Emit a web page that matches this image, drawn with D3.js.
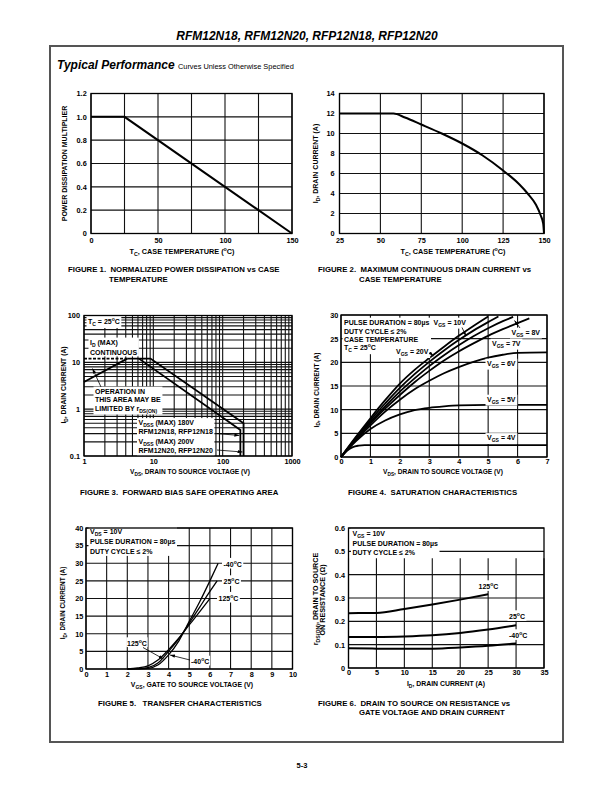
<!DOCTYPE html>
<html>
<head>
<meta charset="utf-8">
<script src="https://cdn.jsdelivr.net/npm/d3@7"></script>
<style>
  body { margin: 0; background: #fff; }
  text { font-family: "Liberation Sans", Arial, sans-serif; font-weight: bold; }
</style>
</head>
<body>
<div id="page"></div>
<script>
// ---- data ----
// Figure 1: normalized power dissipation vs case temperature
const fig1Tc = [0, 25, 150];
const fig1Mult = [1.0, 1.0, 0];
const fig1XTicks = [0, 50, 100, 150];
const fig1YTicks = [0, 0.2, 0.4, 0.6, 0.8, 1.0, 1.2];

// Figure 2: max continuous drain current vs case temperature
const fig2Tc = [25, 58, 65, 75, 87.5, 100, 112.5, 125, 135, 140, 145, 148, 149.5, 150];
const fig2Id = [12, 12, 11.6, 10.9, 10.0, 9.0, 7.8, 6.3, 4.9, 4.0, 2.9, 1.8, 1.0, 0];
const fig2XTicks = [25, 50, 75, 100, 125, 150];
const fig2YTicks = [0, 2, 4, 6, 8, 10, 12, 14];

// Figure 3: forward bias safe operating area (log-log)
const soaRdsV = [1, 4.2];
const soaRdsI = [3.8, 12];
const soaIdMaxV = [1, 4.2];
const soaIdMaxI = [12, 12];
const soa200V = [4.2, 9.1, 200, 200];
const soa200I = [12, 12, 0.5, 0.1];
const soa180V = [6.2, 180, 180];
const soa180I = [12, 0.36, 0.1];
const fig3XTicks = [1, 10, 100, 1000];
const fig3YTicks = [0.1, 1, 10, 100];

// Figure 4: saturation characteristics
const vgs20Vds = [0, 0.5, 1, 1.5, 2, 2.5, 3, 3.5, 4, 4.5, 5];
const vgs20Id = [0, 4.2, 8.2, 12.0, 15.5, 18.4, 20.9, 23.3, 25.6, 27.7, 29.7];
const vgs10Vds = [0, 0.5, 1, 1.5, 2, 2.5, 3, 3.5, 4, 4.5, 5, 5.35];
const vgs10Id = [0, 4.0, 7.8, 11.3, 14.6, 17.5, 20.1, 22.5, 24.7, 26.7, 28.5, 29.7];
const vgs8Vds = [0, 0.5, 1, 1.5, 2, 2.5, 3, 3.5, 4, 4.5, 5, 5.5, 5.85];
const vgs8Id = [0, 3.8, 7.4, 10.7, 13.8, 16.6, 19.2, 21.5, 23.6, 25.5, 27.2, 28.7, 29.6];
const vgs7Vds = [0, 0.5, 1, 1.5, 2, 2.5, 3, 3.5, 4, 4.5, 5, 5.5, 6, 6.4];
const vgs7Id = [0, 3.7, 7.1, 10.2, 13.1, 15.8, 18.2, 20.4, 22.3, 24.0, 25.6, 27.0, 28.3, 29.3];
const vgs6Vds = [0, 0.5, 1, 1.5, 2, 2.5, 3, 3.5, 4, 4.5, 5, 5.5, 6, 7];
const vgs6Id = [0, 3.5, 6.7, 9.6, 12.1, 14.3, 16.1, 17.7, 19.0, 20.1, 21.0, 21.6, 22.0, 22.1];
const vgs5Vds = [0, 0.5, 1, 1.5, 2, 2.5, 3, 3.5, 4, 5, 7];
const vgs5Id = [0, 3.3, 5.9, 7.7, 9.0, 9.9, 10.4, 10.7, 10.9, 11.0, 11.0];
const vgs4Vds = [0, 0.2, 0.4, 0.6, 0.8, 1.0, 7];
const vgs4Id = [0, 1.3, 2.1, 2.4, 2.5, 2.5, 2.5];
const fig4XTicks = [0, 1, 2, 3, 4, 5, 6, 7];
const fig4YTicks = [0, 5, 10, 15, 20, 25, 30];

// Figure 5: transfer characteristics
const tm40Vgs = [2, 2.5, 3, 3.5, 4, 4.5, 5, 5.5, 6, 6.4];
const tm40Id = [0, 0.05, 0.2, 1.2, 4.0, 8.0, 13.5, 19.0, 25.0, 30.0];
const t25Vgs = [2, 2.5, 3, 3.5, 4, 4.5, 5, 5.5, 6, 6.35];
const t25Id = [0, 0.1, 0.4, 1.8, 5.0, 8.6, 13.0, 17.5, 22.0, 25.0];
const t125Vgs = [2, 2.5, 3, 3.5, 4, 4.5, 5, 5.5, 6];
const t125Id = [0, 0.3, 0.9, 2.6, 5.5, 8.8, 12.5, 16.2, 20.0];
const fig5XTicks = [0, 1, 2, 3, 4, 5, 6, 7, 8, 9, 10];
const fig5YTicks = [0, 5, 10, 15, 20, 25, 30, 35, 40];

// Figure 6: on resistance vs drain current
const r125Id = [0, 5, 10, 15, 20, 25];
const r125R = [0.235, 0.236, 0.253, 0.272, 0.293, 0.316];
const r25Id = [0, 5, 10, 15, 20, 25, 30];
const r25R = [0.133, 0.133, 0.135, 0.140, 0.150, 0.165, 0.183];
const rm40Id = [0, 5, 10, 15, 20, 25, 30];
const rm40R = [0.085, 0.083, 0.082, 0.083, 0.088, 0.095, 0.105];
const fig6XTicks = [0, 5, 10, 15, 20, 25, 30, 35];
const fig6YTicks = [0, 0.1, 0.2, 0.3, 0.4, 0.5, 0.6];

// ---- page ----
const svg = d3.select("#page").append("svg")
  .attr("width", 612)
  .attr("height", 792);

svg.append("defs").append("marker")
  .attr("id", "arr")
  .attr("viewBox", "0 0 6 4")
  .attr("refX", 6).attr("refY", 2)
  .attr("markerWidth", 5).attr("markerHeight", 3.5)
  .attr("markerUnits", "userSpaceOnUse")
  .attr("orient", "auto")
  .append("path").attr("d", "M0,0L6,2L0,4Z").attr("fill", "#000");

// text with sub/superscripts; parts are strings or [text, "sub"|"sup"]
function rich(sel, parts, size) {
  let shift = 0;
  parts.forEach(p => {
    const [t, m] = typeof p === "string" ? [p, ""] : p;
    const target = m === "sub" ? 0.3 * size : m === "sup" ? -0.4 * size : 0;
    sel.append("tspan")
      .attr("dy", target - shift)
      .attr("font-size", m ? size * 0.72 : size)
      .text(t);
    shift = target;
  });
  return sel;
}

function label(g, x, y, parts, opts = {}) {
  const size = opts.size || 7;
  const t = g.append("text")
    .attr("x", x).attr("y", y)
    .attr("font-size", size)
    .attr("text-anchor", opts.anchor || "start")
    .style("white-space", "pre");
  if (opts.rotate) t.attr("transform", `rotate(-90,${x},${y})`);
  rich(t, parts, size);
  return t;
}

// block of lines on a white background
function note(g, x, ys, lines, pad = 1.5) {
  const blk = g.append("g");
  lines.forEach((parts, i) => label(blk, x, ys[i], parts));
  const b = blk.node().getBBox();
  blk.insert("rect", ":first-child")
    .attr("x", b.x - pad).attr("y", b.y - pad * 0.6)
    .attr("width", b.width + pad * 2).attr("height", b.height + pad * 1.2)
    .attr("fill", "#fff");
  return blk;
}

function arrow(g, x1, y1, x2, y2) {
  g.append("line")
    .attr("x1", x1).attr("y1", y1).attr("x2", x2).attr("y2", y2)
    .attr("stroke", "#000").attr("stroke-width", 0.8)
    .attr("marker-end", "url(#arr)");
}

function panel(p) {
  const g = svg.append("g");
  const x = (p.xlog ? d3.scaleLog() : d3.scaleLinear()).domain(p.xd).range([p.l, p.r]);
  const y = (p.ylog ? d3.scaleLog() : d3.scaleLinear()).domain(p.yd).range([p.b, p.t]);
  const xg = p.xlog ? x.ticks() : p.xticks;
  const yg = p.ylog ? y.ticks() : p.yticks;
  const vTop = p.vgTop !== undefined ? y(p.vgTop) : p.t;

  g.append("g").selectAll("line").data(xg).join("line")
    .attr("x1", d => x(d)).attr("x2", d => x(d))
    .attr("y1", p.b).attr("y2", vTop)
    .attr("stroke", "#111").attr("stroke-width", p.gw || 1.1);
  g.append("g").selectAll("line").data(yg).join("line")
    .attr("x1", p.l).attr("x2", p.r)
    .attr("y1", d => y(d)).attr("y2", d => y(d))
    .attr("stroke", "#111").attr("stroke-width", p.gw || 1.1);

  const ax = g.append("g")
    .attr("transform", `translate(0,${p.b})`)
    .call(d3.axisBottom(x).tickValues(p.xticks).tickFormat(d => d).tickSize(0).tickPadding(p.xpad));
  const ay = g.append("g")
    .attr("transform", `translate(${p.l},0)`)
    .call(d3.axisLeft(y).tickValues(p.yticks).tickFormat(p.yfmt || (d => d)).tickSize(0).tickPadding(p.ypad));
  [ax, ay].forEach(a => {
    a.select(".domain").remove();
    a.attr("font-family", null).attr("font-size", 7.3);
  });

  const layer = g.append("g");
  const top = g.append("g");
  top.append("rect")
    .attr("x", p.l).attr("y", p.t)
    .attr("width", p.r - p.l).attr("height", p.b - p.t)
    .attr("fill", "none").attr("stroke", "#000").attr("stroke-width", 1.3);
  return { g: layer, x, y };
}

function curve(pn, xs, ys, opts = {}) {
  const line = d3.line()
    .x(d => pn.x(d[0])).y(d => pn.y(d[1]))
    .curve(opts.smooth ? d3.curveMonotoneX : d3.curveLinear);
  pn.g.append("path")
    .attr("d", line(d3.zip(xs, ys)))
    .attr("fill", "none")
    .attr("stroke", "#000")
    .attr("stroke-width", opts.w || 1.8)
    .attr("stroke-dasharray", opts.dash || null);
}

const cap = 7.8;

// header and frame
label(svg, 307, 40, ["RFM12N18, RFM12N20, RFP12N18, RFP12N20"], { size: 12, anchor: "middle" })
  .style("font-style", "italic");
svg.append("rect")
  .attr("x", 50).attr("y", 46).attr("width", 513).attr("height", 696)
  .attr("fill", "none").attr("stroke", "#555").attr("stroke-width", 2);
const tp = svg.append("text").attr("x", 57).attr("y", 69);
tp.append("tspan").attr("font-size", 12).style("font-style", "italic").text("Typical Performance ");
tp.append("tspan").attr("font-size", 7.4).attr("font-weight", "normal").text("Curves Unless Otherwise Specified");
label(svg, 302, 768, ["5-3"], { size: 7.5, anchor: "middle" }).attr("font-weight", "normal");

// ---- Figure 1 ----
const p1 = panel({ l: 91, r: 292, t: 93.5, b: 233.5, xd: [0, 150], yd: [0, 1.2],
  xticks: fig1XTicks, yticks: fig1YTicks, xpad: 4.5, ypad: 4.3,
  yfmt: d => d === 0 ? "0" : d3.format(".1f")(d) });
p1.g.append("g").selectAll("line").data([25, 75, 125]).join("line")
  .attr("x1", d => p1.x(d)).attr("x2", d => p1.x(d)).attr("y1", 233.5).attr("y2", 93.5)
  .attr("stroke", "#111").attr("stroke-width", 1.1);
curve(p1, fig1Tc, fig1Mult, { w: 2 });
label(svg, 67, 163.5, ["POWER DISSIPATION MULTIPLIER"], { rotate: true, anchor: "middle" });
label(svg, 182, 253.5, ["T", ["C", "sub"], ", CASE TEMPERATURE (", ["o", "sup"], "C)"], { size: 7.3, anchor: "middle" });
label(svg, 68, 272, ["FIGURE 1.  NORMALIZED POWER DISSIPATION vs CASE"], { size: cap });
label(svg, 109, 281.5, ["TEMPERATURE"], { size: cap });

// ---- Figure 2 ----
const p2 = panel({ l: 339.5, r: 544, t: 93.5, b: 233.5, xd: [25, 150], yd: [0, 14],
  xticks: fig2XTicks, yticks: fig2YTicks, xpad: 4.5, ypad: 5 });
curve(p2, fig2Tc, fig2Id, { smooth: true, w: 2 });
label(svg, 318, 163.5, ["I", ["D", "sub"], ", DRAIN CURRENT (A)"], { rotate: true, anchor: "middle" });
label(svg, 453, 253.5, ["T", ["C", "sub"], ", CASE TEMPERATURE (", ["o", "sup"], "C)"], { size: 7.3, anchor: "middle" });
label(svg, 318, 272, ["FIGURE 2.  MAXIMUM CONTINUOUS DRAIN CURRENT vs"], { size: cap });
label(svg, 359, 281.5, ["CASE TEMPERATURE"], { size: cap });

// ---- Figure 3 ----
const p3 = panel({ l: 84, r: 292, t: 315.5, b: 456, xd: [1, 1000], yd: [0.1, 100],
  xlog: true, ylog: true, xticks: fig3XTicks, yticks: fig3YTicks, xpad: 2.8, ypad: 4, gw: 1.1 });
curve(p3, soaIdMaxV, soaIdMaxI, { dash: "3,1.5", w: 1.6 });
curve(p3, soaRdsV, soaRdsI, { w: 1.8 });
curve(p3, soa200V, soa200I, { w: 1.8 });
curve(p3, soa180V, soa180I, { w: 1.8 });
note(p3.g, 88, [324], [["T", ["C", "sub"], " = 25", ["o", "sup"], "C"]]);
note(p3.g, 90, [344.5, 354.5], [["I", ["D", "sub"], " (MAX)"], ["CONTINUOUS"]]);
note(p3.g, 95, [393.5, 402, 410.5], [["OPERATION IN"], ["THIS AREA MAY BE"], ["LIMITED BY r", ["DS(ON)", "sub"]]]);
arrow(p3.g, 101, 387, 92.5, 368.5);
note(p3.g, 138.5, [425, 434, 444, 453], [
  ["V", ["DSS", "sub"], " (MAX) 180V"], ["RFM12N18, RFP12N18"],
  ["V", ["DSS", "sub"], " (MAX) 200V"], ["RFM12N20, RFP12N20"]]);
arrow(p3.g, 217, 433.5, p3.x(180) - 1, 435.5);
arrow(p3.g, 217, 450, p3.x(200) - 1, 452);
label(svg, 66, 385, ["I", ["D", "sub"], ", DRAIN CURRENT (A)"], { size: 6.8, rotate: true, anchor: "middle" });
label(svg, 190, 474, ["V", ["DS", "sub"], ", DRAIN TO SOURCE VOLTAGE (V)"], { size: 6.6, anchor: "middle" });
label(svg, 80, 494.5, ["FIGURE 3.  FORWARD BIAS SAFE OPERATING AREA"], { size: cap });

// ---- Figure 4 ----
const p4 = panel({ l: 341, r: 547, t: 315, b: 457, xd: [0, 7], yd: [0, 30],
  xticks: fig4XTicks, yticks: fig4YTicks, xpad: 2.3, ypad: 2.7 });
curve(p4, vgs20Vds, vgs20Id, { smooth: true });
curve(p4, vgs10Vds, vgs10Id, { smooth: true });
curve(p4, vgs8Vds, vgs8Id, { smooth: true });
curve(p4, vgs7Vds, vgs7Id, { smooth: true });
curve(p4, vgs6Vds, vgs6Id, { smooth: true });
curve(p4, vgs5Vds, vgs5Id, { smooth: true });
curve(p4, vgs4Vds, vgs4Id, { smooth: true });
note(p4.g, 344, [324.6, 333.5, 341.8, 350.2], [
  ["PULSE DURATION = 80µs"], ["DUTY CYCLE ≤ 2%"], ["CASE TEMPERATURE"],
  ["T", ["C", "sub"], " = 25", ["o", "sup"], "C"]]);
const vgsNotes = [[433.5, 324.6, "10V"], [396, 354, "20V"], [511.5, 334.5, "8V"], [492, 345.6, "7V"],
  [487, 365.6, "6V"], [487, 401.6, "5V"], [487, 440, "4V"]];
vgsNotes.forEach(([x, y, v]) => note(p4.g, x, [y], [["V", ["GS", "sub"], " = " + v]]));
arrow(p4.g, 462, 327.5, 466, 336);
arrow(p4.g, 429.5, 352.5, 433.5, 356);
arrow(p4.g, 520, 328, 514.5, 320.5);
label(svg, 318.5, 390, ["I", ["D", "sub"], ", DRAIN CURRENT (A)"], { size: 6.6, rotate: true, anchor: "middle" });
label(svg, 443, 474, ["V", ["DS", "sub"], ", DRAIN TO SOURCE VOLTAGE (V)"], { size: 6.6, anchor: "middle" });
label(svg, 348, 494.5, ["FIGURE 4.  SATURATION CHARACTERISTICS"], { size: cap });

// ---- Figure 5 ----
const p5 = panel({ l: 86, r: 292.5, t: 528, b: 669, xd: [0, 10], yd: [0, 40],
  xticks: fig5XTicks, yticks: fig5YTicks, xpad: 3, ypad: 2.7 });
curve(p5, tm40Vgs, tm40Id, { smooth: true, w: 1.3 });
curve(p5, t25Vgs, t25Id, { smooth: true, w: 1.3 });
curve(p5, t125Vgs, t125Id, { smooth: true, w: 1.3 });
note(p5.g, 90, [533.5, 544, 554], [["V", ["DS", "sub"], " = 10V"], ["PULSE DURATION = 80µs"], ["DUTY CYCLE ≤ 2%"]]);
note(p5.g, 223.5, [566.6], [["-40", ["o", "sup"], "C"]]);
note(p5.g, 223.5, [584], [["25", ["o", "sup"], "C"]]);
note(p5.g, 218.5, [600.6], [["125", ["o", "sup"], "C"]]);
note(p5.g, 127, [645.6], [["125", ["o", "sup"], "C"]], 0.8);
note(p5.g, 191, [664], [["-40", ["o", "sup"], "C"]], 0.8);
arrow(p5.g, 143, 647.5, 163.5, 659);
arrow(p5.g, 190, 660, 170, 655);
label(svg, 65, 603, ["I", ["D", "sub"], ", DRAIN CURRENT (A)"], { size: 6.4, rotate: true, anchor: "middle" });
label(svg, 192, 686.5, ["V", ["GS", "sub"], ", GATE TO SOURCE VOLTAGE (V)"], { size: 6.9, anchor: "middle" });
label(svg, 98, 705.5, ["FIGURE 5.   TRANSFER CHARACTERISTICS"], { size: cap });

// ---- Figure 6 ----
const p6 = panel({ l: 348.5, r: 544, t: 528, b: 668, xd: [0, 35], yd: [0, 0.6],
  xticks: fig6XTicks, yticks: fig6YTicks, xpad: 2.3, ypad: 3.5, vgTop: 0.47,
  yfmt: d => d === 0 ? "0" : d3.format(".1f")(d) });
curve(p6, r125Id, r125R, { smooth: true, w: 2 });
curve(p6, r25Id, r25R, { smooth: true, w: 2 });
curve(p6, rm40Id, rm40R, { smooth: true, w: 2 });
note(p6.g, 352.5, [535.6, 545.6, 555], [["V", ["GS", "sub"], " = 10V"], ["PULSE DURATION = 80µs"], ["DUTY CYCLE ≤ 2%"]]);
note(p6.g, 478.5, [589], [["125", ["o", "sup"], "C"]]);
note(p6.g, 509, [619], [["25", ["o", "sup"], "C"]]);
note(p6.g, 509, [638], [["-40", ["o", "sup"], "C"]]);
label(svg, 317.5, 599, ["r", ["DS(ON)", "sub"], ", DRAIN TO SOURCE"], { size: 7.2, rotate: true, anchor: "middle" });
label(svg, 325, 600, ["ON RESISTANCE (Ω)"], { size: 7.2, rotate: true, anchor: "middle" });
label(svg, 446, 685.5, ["I", ["D", "sub"], ", DRAIN CURRENT (A)"], { size: 6.9, anchor: "middle" });
label(svg, 318, 705.5, ["FIGURE 6.  DRAIN TO SOURCE ON RESISTANCE vs"], { size: cap });
label(svg, 359, 714.5, ["GATE VOLTAGE AND DRAIN CURRENT"], { size: cap });
</script>
</body>
</html>
